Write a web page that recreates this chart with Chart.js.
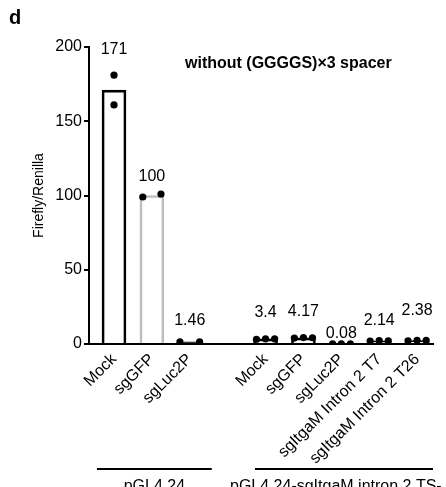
<!DOCTYPE html>
<html>
<head>
<meta charset="utf-8">
<script src="https://cdn.jsdelivr.net/npm/chart.js@4/dist/chart.umd.min.js"></script>
<style>
  html, body { margin: 0; padding: 0; background: #fff; }
  #wrap { width: 446px; height: 487px; }
</style>
</head>
<body>
<div id="wrap"><canvas id="chart" width="446" height="487"></canvas></div>
<script>
// categories (empty slot separates the two plasmid groups)
const categories = ['Mock', 'sgGFP', 'sgLuc2P', '', 'Mock', 'sgGFP', 'sgLuc2P', 'sgItgaM Intron 2 T7', 'sgItgaM Intron 2 T26'];
const means = [171, 100, 1.46, null, 3.4, 4.17, 0.08, 2.14, 2.38];
const meanLabels = ['171', '100', '1.46', '', '3.4', '4.17', '0.08', '2.14', '2.38'];
const replicates = [
    [181, 161],
    [99, 101],
    [1.4, 1.52],
    [],
    [3.2, 3.5, 3.5],
    [4.0, 4.3, 4.2],
    [0.06, 0.1, 0.08],
    [2.0, 2.3, 2.12],
    [2.2, 2.5, 2.44]
];
const yTicks = [0, 50, 100, 150, 200];
const groups = [
    { label: 'pGL4.24', from: -0.45, to: 2.58 },
    { label: 'pGL4.24-sgItgaM intron 2 TS-', from: 3.72, to: 8.42 }
];

// layout / style helpers (not data)
const jitter = [[0, 0], [-0.24, 0.24], [-0.26, 0.26], [], [-0.24, 0, 0.24], [-0.24, 0, 0.24], [-0.23, 0, 0.24], [-0.24, 0, 0.24], [-0.24, 0, 0.24]];
const labelLift = [26, 17, 21, 0, 26, 26, 10, 20, 30];
const barColors = ['#000', '#bdbdbd', '#000', '#000', '#000', '#000', '#000', '#000', '#000'];
const FONT = '"Liberation Sans", Arial, Helvetica, sans-serif';

Chart.defaults.font.family = FONT;
Chart.defaults.color = '#000';

const barData = [];
const barBorders = [];
categories.forEach(function(c, i) {
    if (means[i] === null) return;
    barData.push({ x: i, y: means[i] });
    barBorders.push(barColors[i]);
});

const dots = [];
replicates.forEach(function(vals, i) {
    vals.forEach(function(v, j) {
        dots.push({ x: i + jitter[i][j], y: v });
    });
});

const tickPositions = [];
categories.forEach(function(c, i) { if (c) tickPositions.push(i); });

const extras = {
    id: 'extras',
    afterDraw: function(chart) {
        const ctx = chart.ctx;
        const xs = chart.scales.x;
        const ys = chart.scales.y;
        ctx.save();
        ctx.fillStyle = '#000';
        ctx.strokeStyle = '#000';

        // panel letter
        ctx.font = 'bold 20px ' + FONT;
        ctx.textAlign = 'left';
        ctx.textBaseline = 'alphabetic';
        ctx.fillText('d', 9, 24);

        // panel title
        ctx.font = 'bold 16px ' + FONT;
        ctx.textBaseline = 'middle';
        ctx.fillText('without (GGGGS)\u00d73 spacer', 185, 64);

        // mean labels above the dots
        ctx.font = '16px ' + FONT;
        ctx.textAlign = 'center';
        categories.forEach(function(c, i) {
            if (!meanLabels[i]) return;
            const top = Math.max.apply(null, replicates[i]);
            const y = ys.getPixelForValue(top) - labelLift[i];
            ctx.fillText(meanLabels[i], xs.getPixelForValue(i), y);
        });

        // group brackets
        const lineY = 469;
        ctx.lineWidth = 2;
        groups.forEach(function(g, k) {
            const x1 = xs.getPixelForValue(g.from);
            const x2 = xs.getPixelForValue(g.to);
            ctx.beginPath();
            ctx.moveTo(x1, lineY);
            ctx.lineTo(x2, lineY);
            ctx.stroke();
            ctx.textBaseline = 'alphabetic';
            if (k === 0) {
                ctx.textAlign = 'center';
                ctx.fillText(g.label, (x1 + x2) / 2, 491);
            } else {
                ctx.textAlign = 'left';
                ctx.fillText(g.label, 230, 491);
            }
        });
        ctx.restore();
    }
};

const ctx = document.getElementById('chart').getContext('2d');
new Chart(ctx, {
    type: 'bar',
    data: {
        datasets: [
            {
                type: 'scatter',
                data: dots,
                backgroundColor: '#000',
                borderWidth: 0,
                pointRadius: 3.6,
                order: 0
            },
            {
                type: 'bar',
                data: barData,
                backgroundColor: 'rgba(255,255,255,0)',
                borderColor: barBorders,
                borderWidth: 2,
                barThickness: 24,
                borderSkipped: 'bottom',
                order: 1
            }
        ]
    },
    options: {
        responsive: false,
        animation: false,
        layout: { padding: { top: 47, right: 13, left: 0, bottom: 0 } },
        plugins: {
            legend: { display: false },
            tooltip: { enabled: false }
        },
        scales: {
            x: {
                type: 'linear',
                offset: false,
                min: -0.66,
                max: 8.42,
                afterBuildTicks: function(scale) {
                    scale.ticks = tickPositions.map(function(v) { return { value: v }; });
                },
                afterFit: function(scale) { scale.height = 143; },
                grid: { display: true, drawOnChartArea: false, drawTicks: false },
                border: { display: true, color: '#000', width: 2 },
                ticks: {
                    autoSkip: false,
                    minRotation: 45,
                    maxRotation: 45,
                    padding: 6,
                    font: { size: 16 },
                    color: '#000',
                    callback: function(value) { return categories[value] || ''; }
                }
            },
            y: {
                min: 0,
                max: 200,
                afterBuildTicks: function(scale) {
                    scale.ticks = yTicks.map(function(v) { return { value: v }; });
                },
                afterFit: function(scale) { scale.width = 89; },
                grid: { display: true, drawOnChartArea: false, drawTicks: true, tickLength: 5, color: '#000', lineWidth: 2 },
                border: { display: true, color: '#000', width: 2 },
                ticks: { padding: 2, font: { size: 16 }, color: '#000' },
                title: {
                    display: true,
                    text: 'Firefly/Renilla',
                    font: { size: 14 },
                    color: '#000',
                    padding: { top: 31, bottom: 0 }
                }
            }
        }
    },
    plugins: [extras]
});
</script>
</body>
</html>
